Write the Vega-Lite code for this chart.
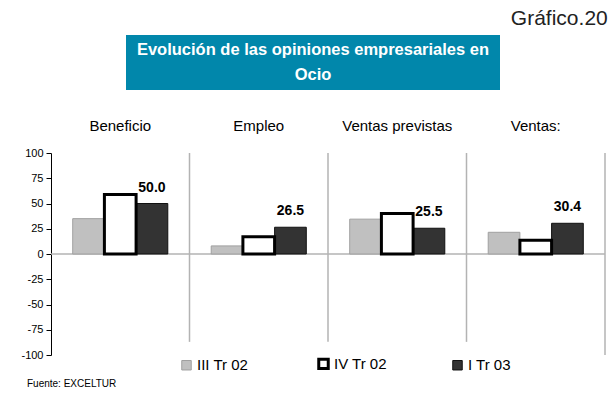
{
  "$schema": "https://vega.github.io/schema/vega-lite/v6.json",
  "padding": {"left": 20, "top": 8, "right": 2, "bottom": 2},
  "background": "white",
  "title": {"text": "Gráfico.20", "anchor": "end", "fontSize": 21, "fontWeight": "normal", "color": "#222222", "offset": 6, "dx": 2},
  "config": {
    "font": "Liberation Sans",
    "view": {"stroke": null},
    "concat": {"spacing": 28}
  },
  "resolve": {"legend": {"fill": "independent", "stroke": "independent"}},
  "vconcat": [
    {
      "spacing": 0,
      "hconcat": [
        {
          "width": 75,
          "height": 55,
          "data": {"values": [{"t": 0}]},
          "mark": {"type": "text", "text": ""}
        },
        {
          "width": 374,
          "height": 55,
          "view": {"fill": "#0187ab", "stroke": null},
          "data": {"values": [{"t": 1}]},
          "mark": {
            "type": "text",
            "text": ["Evolución de las opiniones empresariales en", "Ocio"],
            "color": "white",
            "fontWeight": "bold",
            "fontSize": 16.5,
            "lineHeight": 25,
            "baseline": "middle",
            "align": "center",
            "dy": -12.5
          }
        }
      ]
    },
    {
      "width": 554,
      "height": 202,
      "title": {"text": "Fuente: EXCELTUR", "orient": "bottom", "anchor": "start", "fontSize": 10, "fontWeight": "normal", "color": "#000000", "offset": 4, "dx": 6},
      "data": {"values": [
        {"group": "Beneficio", "series": "III Tr 02", "value": 35},
        {"group": "Empleo", "series": "III Tr 02", "value": 8},
        {"group": "Ventas previstas", "series": "III Tr 02", "value": 34.5},
        {"group": "Ventas:", "series": "III Tr 02", "value": 21.5},
        {"group": "Beneficio", "series": "I Tr 03", "value": 50.0},
        {"group": "Empleo", "series": "I Tr 03", "value": 26.5},
        {"group": "Ventas previstas", "series": "I Tr 03", "value": 25.5},
        {"group": "Ventas:", "series": "I Tr 03", "value": 30.4},
        {"group": "Beneficio", "series": "IV Tr 02", "value": 59},
        {"group": "Empleo", "series": "IV Tr 02", "value": 17},
        {"group": "Ventas previstas", "series": "IV Tr 02", "value": 40},
        {"group": "Ventas:", "series": "IV Tr 02", "value": 13.5}
      ]},
      "layer": [
        {
          "data": {"values": [{"group": "Beneficio"}, {"group": "Empleo"}, {"group": "Ventas previstas"}]},
          "mark": {"type": "rule", "color": "#b3b3b3", "strokeWidth": 1.5},
          "encoding": {
            "x": {"field": "group", "type": "nominal", "bandPosition": 1},
            "y": {"datum": 100, "type": "quantitative", "scale": {"domain": [-100, 100], "nice": false},
              "axis": {"title": null, "values": [-100, -75, -50, -25, 0, 25, 50, 75, 100], "tickCount": 9, "labelExpr": "datum.value < 0 ? '-' + abs(datum.value) : '' + datum.value", "labelOverlap": false, "grid": false, "domainColor": "#000000", "domainWidth": 1, "tickColor": "#000000", "tickSize": 5, "labelFontSize": 11, "labelColor": "#000000", "labelPadding": 3}},
            "y2": {"datum": -87}
          }
        },
        {
          "data": {"values": [{"group": "Ventas:"}]},
          "mark": {"type": "rule", "color": "#b3b3b3", "strokeWidth": 1.5},
          "encoding": {
            "x": {"field": "group", "type": "nominal", "bandPosition": 1},
            "y": {"datum": 100, "type": "quantitative", "scale": {"domain": [-100, 100], "nice": false},
              "axis": {"title": null, "values": [-100, -75, -50, -25, 0, 25, 50, 75, 100], "tickCount": 9, "labelExpr": "datum.value < 0 ? '-' + abs(datum.value) : '' + datum.value", "labelOverlap": false, "grid": false, "domainColor": "#000000", "domainWidth": 1, "tickColor": "#000000", "tickSize": 5, "labelFontSize": 11, "labelColor": "#000000", "labelPadding": 3}},
            "y2": {"datum": -100}
          }
        },
        {
          "data": {"values": [{"z": 0}]},
          "mark": {"type": "rule", "color": "#b3b3b3", "strokeWidth": 1.5},
          "encoding": {"y": {"datum": 0, "type": "quantitative", "scale": {"domain": [-100, 100], "nice": false},
              "axis": {"title": null, "values": [-100, -75, -50, -25, 0, 25, 50, 75, 100], "tickCount": 9, "labelExpr": "datum.value < 0 ? '-' + abs(datum.value) : '' + datum.value", "labelOverlap": false, "grid": false, "domainColor": "#000000", "domainWidth": 1, "tickColor": "#000000", "tickSize": 5, "labelFontSize": 11, "labelColor": "#000000", "labelPadding": 3}}}
        },
        {
          "mark": {"type": "bar"},
          "encoding": {
            "x": {
              "field": "group", "type": "nominal",
              "scale": {"domain": ["Beneficio", "Empleo", "Ventas previstas", "Ventas:"], "paddingInner": 0, "paddingOuter": 0},
              "axis": {"orient": "top", "title": null, "domain": false, "ticks": false, "labelPadding": 20, "labelFontSize": 15, "labelColor": "#000000", "labelAngle": 0, "labelAlign": "center", "labelBaseline": "bottom"}
            },
            "xOffset": {
              "field": "series", "type": "nominal",
              "scale": {"domain": ["III Tr 02", "IV Tr 02", "I Tr 03"], "paddingInner": 0, "paddingOuter": 0.685}
            },
            "y": {
              "field": "value", "type": "quantitative",
              "scale": {"domain": [-100, 100], "nice": false},
              "axis": {"title": null, "values": [-100, -75, -50, -25, 0, 25, 50, 75, 100], "tickCount": 9, "labelExpr": "datum.value < 0 ? '-' + abs(datum.value) : '' + datum.value", "labelOverlap": false, "grid": false, "domainColor": "#000000", "domainWidth": 1, "tickColor": "#000000", "tickSize": 5, "labelFontSize": 11, "labelColor": "#000000", "labelPadding": 3}
            },
            "fill": {
              "field": "series", "type": "nominal",
              "scale": {"domain": ["III Tr 02", "IV Tr 02", "I Tr 03"], "range": ["#c0c0c0", "#ffffff", "#333333"]},
              "legend": {
                "title": null, "orient": "none", "direction": "horizontal", "legendX": 128, "legendY": 203,
                "padding": 0, "symbolType": "square", "symbolSize": 90, "labelFontSize": 15, "labelColor": "#000000",
                "labelOffset": 3, "columnPadding": 63, "gridAlign": "each",
                "encode": {"symbols": {"update": {"strokeWidth": {"signal": "datum.label === 'IV Tr 02' ? 3 : 1"}}}}
              }
            },
            "stroke": {
              "field": "series", "type": "nominal",
              "scale": {"domain": ["III Tr 02", "IV Tr 02", "I Tr 03"], "range": ["#a0a0a0", "#000000", "#111111"]}
            },
            "strokeWidth": {"condition": {"test": "datum.series === 'IV Tr 02'", "value": 3}, "value": 1}
          }
        },
        {
          "transform": [{"filter": "datum.series === 'I Tr 03'"}],
          "mark": {"type": "text", "fontWeight": "bold", "fontSize": 14, "dy": -16, "baseline": "middle", "color": "#000000"},
          "encoding": {
            "x": {"field": "group", "type": "nominal"},
            "xOffset": {"field": "series", "type": "nominal"},
            "y": {"field": "value", "type": "quantitative"},
            "text": {"field": "value", "type": "quantitative", "format": ".1f"}
          }
        }
      ]
    }
  ]
}
